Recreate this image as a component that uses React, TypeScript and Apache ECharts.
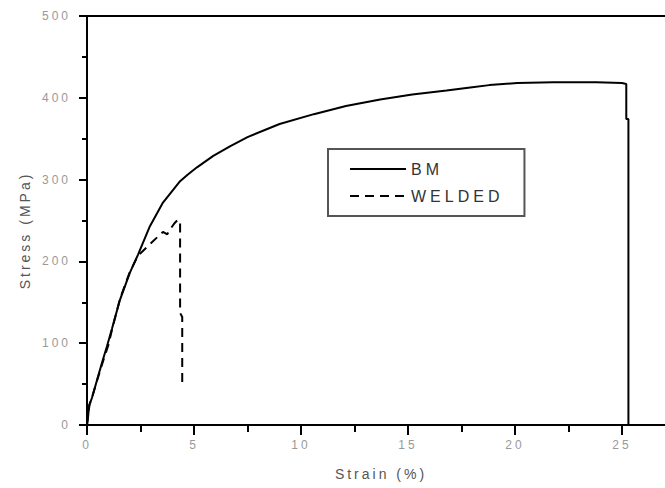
import React, { useEffect, useRef } from "react";
import * as echarts from "echarts";

const bmStrain = [0, 0.05, 0.1, 0.23, 0.47, 0.7, 0.93, 1.17, 1.54, 2.0, 2.38, 2.94, 3.55, 4.35, 4.7, 5.14, 5.9, 6.7, 7.5, 9.0, 10.6, 12.1, 13.7, 15.2, 16.8, 18.0, 18.8, 20.1, 21.8, 23.8, 25.0, 25.2, 25.2, 25.3, 25.3];
const bmStress = [0, 10, 24, 33, 55, 76, 96, 118, 153, 186, 208, 243, 272, 298, 306, 315, 329, 341, 352, 368, 380, 390, 398, 404, 409, 413, 415.5, 418, 419, 419, 418, 417, 374, 374, 0];

const weldedStrain = [0, 0.05, 0.12, 0.25, 0.5, 0.75, 1.0, 1.2, 1.55, 2.0, 2.38, 2.94, 3.3, 3.55, 3.75, 3.85, 4.1, 4.25, 4.35, 4.35, 4.45, 4.45];
const weldedStress = [0, 12, 25, 35, 57, 78, 98, 120, 155, 187, 207, 221, 230, 236, 233, 238, 247, 251, 249, 137, 132, 49];

const xTicks = [0, 5, 10, 15, 20, 25, 30];
const xLabels = [0, 5, 10, 15, 20, 25];
const yTicks = [0, 100, 200, 300, 400, 500];
const seriesNames = ["BM", "WELDED"];

const FONT = "'Liberation Sans', Arial, sans-serif";

export default function App() {
  const ref = useRef<HTMLDivElement>(null);
  useEffect(() => {
    if (!ref.current) return;
    const chart = echarts.init(ref.current, undefined, { renderer: "svg" });
    const bm = bmStrain.map((x, i) => [x, bmStress[i]]);
    const wd = weldedStrain.map((x, i) => [x, weldedStress[i]]);
    chart.setOption({
      animation: false,
      backgroundColor: "#fff",
      grid: {
        left: 87,
        top: 16,
        width: 642,
        height: 409,
        show: true,
        borderColor: "#000",
        borderWidth: 2,
        backgroundColor: "transparent",
        containLabel: false,
        outerBoundsMode: "none",
      },
      legend: {
        data: seriesNames,
        orient: "vertical",
        left: 328,
        top: 149,
        padding: [12, 45, 12, 21],
        itemWidth: 56,
        itemHeight: 14,
        itemGap: 11,
        borderColor: "#555",
        borderWidth: 2,
        selectedMode: false,
        itemStyle: { opacity: 0 },
        textStyle: { fontSize: 16, color: "#333", fontFamily: FONT },
      },
      xAxis: {
        type: "value",
        min: xTicks[0],
        max: xTicks[xTicks.length - 1],
        interval: 5,
        name: "Strain (%)",
        nameLocation: "middle",
        nameGap: 42,
        nameTextStyle: { fontSize: 14, color: "#555", fontFamily: FONT, padding: [0, 54, 0, 0] },
        axisLine: { show: true, lineStyle: { color: "#000", width: 2 } },
        axisTick: { show: true, length: 10, lineStyle: { color: "#000", width: 2 } },
        minorTick: { show: true, splitNumber: 2, length: 7, lineStyle: { color: "#000", width: 2 } },
        axisLabel: {
          fontSize: 12,
          color: "#999",
          fontFamily: FONT,
          margin: 14,
          customValues: xLabels,
        },
        splitLine: { show: false },
      },
      yAxis: {
        type: "value",
        min: yTicks[0],
        max: yTicks[yTicks.length - 1],
        interval: 100,
        name: "Stress (MPa)",
        nameLocation: "middle",
        nameGap: 55,
        nameTextStyle: { fontSize: 14, color: "#555", fontFamily: FONT, padding: [0, 20, 0, 0] },
        axisLine: { show: true, lineStyle: { color: "#000", width: 2 } },
        axisTick: { show: true, length: 8, lineStyle: { color: "#000", width: 2 } },
        minorTick: { show: true, splitNumber: 2, length: 5, lineStyle: { color: "#000", width: 2 } },
        axisLabel: { fontSize: 12, color: "#999", fontFamily: FONT, margin: 16 },
        splitLine: { show: false },
      },
      series: [
        {
          name: seriesNames[0],
          type: "line",
          data: bm,
          symbol: "none",
          lineStyle: { color: "#000", width: 2, type: "solid" },
          itemStyle: { color: "#000" },
        },
        {
          name: seriesNames[1],
          type: "line",
          data: wd,
          symbol: "none",
          lineStyle: { color: "#000", width: 2, type: [9, 6] },
          itemStyle: { color: "#000" },
        },
      ],
    });
    return () => chart.dispose();
  }, []);
  return (
    <>
      <style>{`
        .chartbox svg text { letter-spacing: 3px; }
        .chartbox svg text[style*="16px"] { letter-spacing: 4px; }
      `}</style>
      <div
        className="chartbox"
        ref={ref}
        style={{ position: "fixed", left: 0, top: 0, width: 665, height: 488 }}
      />
    </>
  );
}
